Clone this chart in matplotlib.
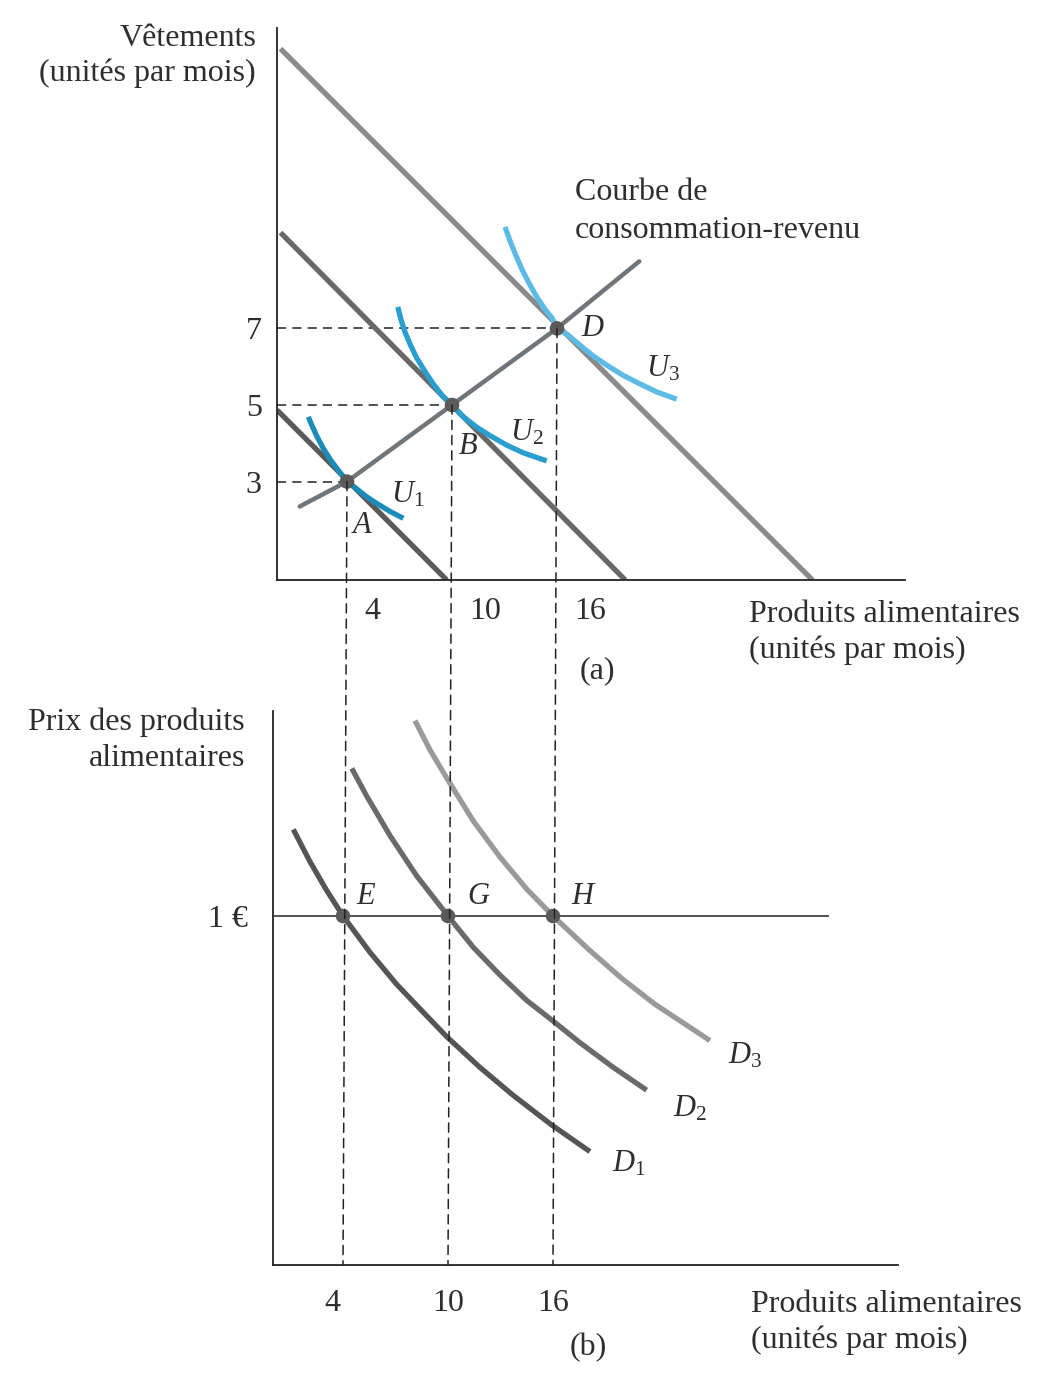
import matplotlib
matplotlib.use("Agg")
import matplotlib.pyplot as plt
from matplotlib.patches import ConnectionPatch
from matplotlib.transforms import ScaledTranslation

plt.rcParams['font.family'] = ['Liberation Serif', 'DejaVu Serif']
plt.rcParams['mathtext.fontset'] = 'custom'
plt.rcParams['mathtext.rm'] = 'Liberation Serif'
plt.rcParams['mathtext.it'] = 'Liberation Serif:italic'

# ---------------- data ----------------
# panel (a): food (x) vs clothing (y)
budget_food = [[0.0, 9.7], [0.2, 19.9], [0.2, 30.6]]
budget_clothing = [[4.87, 0.43], [9.5, 0.43], [14.3, 0.43]]
budget_colors = ['#5a5a5a', '#686868', '#8a8a8a']

icc_food = [1.3, 4, 10, 16, 20.7]
icc_clothing = [2.35, 3, 5, 7, 8.75]

u1_food = [1.79, 1.98, 2.27, 2.65, 3.07, 3.54, 4.0, 4.55, 5.13, 5.70, 6.46, 7.22]
u1_cloth = [4.69, 4.48, 4.19, 3.86, 3.56, 3.27, 3.0, 2.81, 2.60, 2.43, 2.22, 2.04]
u2_food = [6.90, 7.09, 7.31, 7.60, 7.98, 8.46, 8.93, 9.45, 10.0, 10.65, 11.41,
           12.17, 13.13, 14.07, 15.41]
u2_cloth = [7.56, 7.22, 6.91, 6.59, 6.23, 5.87, 5.55, 5.24, 5.0, 4.69, 4.42,
            4.20, 3.95, 3.75, 3.54]
u3_food = [13.03, 13.31, 13.60, 14.02, 14.46, 14.87, 15.31, 15.70, 16.0, 16.65,
           17.31, 18.07, 18.84, 19.79, 20.74, 21.70, 22.84]
u3_cloth = [9.65, 9.29, 8.96, 8.52, 8.13, 7.80, 7.50, 7.28, 7.0, 6.82,
            6.56, 6.28, 6.04, 5.77, 5.55, 5.34, 5.15]
u_colors = ['#1b8cb8', '#2a9ecf', '#5bbbe4']
u_names = ['$U_{\\mathrm{1}}$', '$U_{\\mathrm{2}}$', '$U_{\\mathrm{3}}$']

opt_food = [4, 10, 16]
opt_cloth = [3, 5, 7]
opt_names = ['A', 'B', 'D']

# panel (b): food (x) vs price (y)
price_level = 1.0
price_line_end = 31.7
d1_food = [1.16, 2.11, 3.07, 4.0, 5.54, 7.07, 8.59, 9.93, 11.83, 13.73, 15.93, 18.11]
d1_price = [1.248, 1.156, 1.073, 1.0, 0.896, 0.804, 0.724, 0.654, 0.566, 0.486, 0.401, 0.325]
d2_food = [4.50, 5.35, 6.69, 8.21, 10.0, 11.45, 12.97, 14.50, 15.93, 17.54, 19.45, 21.35]
d2_price = [1.423, 1.344, 1.230, 1.115, 1.0, 0.910, 0.831, 0.758, 0.702, 0.637, 0.566, 0.501]
d3_food = [8.11, 8.97, 9.93, 11.45, 12.97, 14.50, 16.0, 18.02, 19.93, 21.83, 24.97]
d3_price = [1.560, 1.476, 1.395, 1.272, 1.169, 1.077, 1.0, 0.905, 0.821, 0.747, 0.643]
d_colors = ['#555555', '#6a6a6a', '#9a9a9a']
d_names = ['$D_{\\mathrm{1}}$', '$D_{\\mathrm{2}}$', '$D_{\\mathrm{3}}$']
eq_names = ['E', 'G', 'H']

x_ticks = [4, 10, 16]
y_ticks_top = [3, 5, 7]

# ---------------- figure ----------------
W, H = 1041, 1375
fig = plt.figure(figsize=(W / 100, H / 100), dpi=100)
fig.patch.set_facecolor('white')

def px_axes(left, top, right, bottom):
    return fig.add_axes([left / W, 1 - bottom / H, (right - left) / W, (bottom - top) / H])

ax1 = px_axes(277, 28, 905, 580)
ax2 = px_axes(273, 711, 898, 1265)

for ax in (ax1, ax2):
    for s in ('top', 'right'):
        ax.spines[s].set_visible(False)
    for s in ('left', 'bottom'):
        ax.spines[s].set_linewidth(1.3)
        ax.spines[s].set_color('#222222')
    ax.tick_params(length=0)
    ax.patch.set_alpha(0)

ax1.set_xlim(0, 628 / 17.5)
ax1.set_ylim(0.43, 0.43 + 552 / 38.3)
ax2.set_xlim(0, 625 / 17.5)
ax2.set_ylim(0, 554 / 349)

LW = 3.8
TXT = 23
LBL = 22
TC = '#2e2e2e'

# budget lines
for bf, bc, col in zip(budget_food, budget_clothing, budget_colors):
    ax1.plot(bf, bc, color=col, lw=LW, solid_capstyle='butt', zorder=2)

# income-consumption curve
ax1.plot(icc_food, icc_clothing, color='#6e767b', lw=3.2, solid_capstyle='round', zorder=3)

# indifference curves
for xs, ys, col, nm, off in zip([u1_food, u2_food, u3_food],
                                [u1_cloth, u2_cloth, u3_cloth],
                                u_colors, u_names,
                                [(4, 24), (-20, 28), (-14, 30)]):
    ax1.plot(xs, ys, color=col, lw=LW, solid_capstyle='butt', solid_joinstyle='round', zorder=4)
    ax1.annotate(nm, (xs[-1], ys[-1]), xytext=off, textcoords='offset pixels',
                 ha='center', va='center', fontsize=LBL, color=TC)

# horizontal dashed guides
for fx, cy in zip(opt_food, opt_cloth):
    ax1.plot([0, fx], [cy, cy], color='#222222', lw=1.1, ls=(0, (6, 4)), zorder=1)

# optimum points
ax1.scatter(opt_food, opt_cloth, s=110, color='#5a5a5a', zorder=6, edgecolor='none')
for fx, cy, nm, off in zip(opt_food, opt_cloth, opt_names, [(15, -44), (16, -42), (35, 0)]):
    ax1.annotate(nm, (fx, cy), xytext=off, textcoords='offset pixels',
                 ha='center', va='center', fontsize=LBL, style='italic', color=TC)

# ticks panel (a)
ax1.set_yticks(y_ticks_top)
ax1.set_yticklabels([str(v) for v in y_ticks_top], fontsize=TXT, color=TC)
ax1.tick_params(axis='y', pad=11)
ax1.set_xticks(x_ticks)
ax1.set_xticklabels([str(v) for v in x_ticks], fontsize=TXT, color=TC, ha='left')
ax1.tick_params(axis='x', pad=12)
for lab in ax1.get_xticklabels():
    lab.set_transform(lab.get_transform() + ScaledTranslation(17 / 100, 0, fig.dpi_scale_trans))

# panel (b): price line
ax2.plot([0, price_line_end], [price_level, price_level], color='#444444', lw=1.3, zorder=1)

for xs, ys, col, nm, off in zip([d1_food, d2_food, d3_food],
                                [d1_price, d2_price, d3_price],
                                d_colors, d_names,
                                [(39, -12), (43, -19), (35, -15)]):
    ax2.plot(xs, ys, color=col, lw=LW, solid_capstyle='butt', solid_joinstyle='round', zorder=3)
    ax2.annotate(nm, (xs[-1], ys[-1]), xytext=off, textcoords='offset pixels',
                 ha='center', va='center', fontsize=LBL, color=TC)

ax2.scatter(opt_food, [price_level] * 3, s=110, color='#5a5a5a', zorder=6, edgecolor='none')
for fx, nm, off in zip(opt_food, eq_names, [(23, 19), (30, 19), (29, 19)]):
    ax2.annotate(nm, (fx, price_level), xytext=off, textcoords='offset pixels',
                 ha='center', va='center', fontsize=LBL, style='italic', color=TC)

ax2.set_yticks([price_level])
ax2.set_yticklabels(['1 €'], fontsize=TXT, color=TC)
ax2.tick_params(axis='y', pad=18)
ax2.set_xticks(x_ticks)
ax2.set_xticklabels([str(v) for v in x_ticks], fontsize=TXT, color=TC)
ax2.tick_params(axis='x', pad=17)
lab4 = ax2.get_xticklabels()[0]
lab4.set_transform(lab4.get_transform() + ScaledTranslation(-11 / 100, 0, fig.dpi_scale_trans))

# vertical dashed lines spanning both panels
for fx, cy in zip(opt_food, opt_cloth):
    con = ConnectionPatch(xyA=(fx, cy), coordsA=ax1.transData,
                          xyB=(fx, 0), coordsB=ax2.transData,
                          color='#222222', lw=1.1, ls=(0, (6, 4)), zorder=1)
    fig.add_artist(con)

# axis titles and captions
def ftext(x, y, s, **kw):
    fig.text(x / W, 1 - y / H, s, fontsize=TXT, color=TC, va='center', **kw)

ftext(256, 38, 'Vêtements', ha='right')
ftext(256, 73, '(unités par mois)', ha='right')
ftext(575, 193, 'Courbe de', ha='left')
ftext(575, 230, 'consommation-revenu', ha='left')
ftext(749, 614, 'Produits alimentaires', ha='left')
ftext(749, 650, '(unités par mois)', ha='left')
ftext(597, 671, '(a)', ha='center')

ftext(245, 722, 'Prix des produits', ha='right')
ftext(245, 758, 'alimentaires', ha='right')
ftext(751, 1305, 'Produits alimentaires', ha='left')
ftext(751, 1340, '(unités par mois)', ha='left')
ftext(588, 1348, '(b)', ha='center')

fig.savefig('out.png', dpi=100, facecolor='white')
